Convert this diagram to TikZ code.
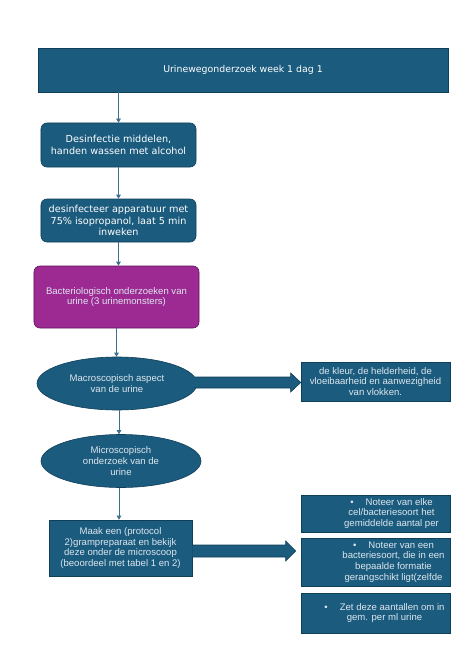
\documentclass[tikz,border=0pt]{standalone}
\usepackage{fontspec}
\setmainfont{DejaVu Sans}
\newfontfamily\thinfont{Liberation Sans}
\usetikzlibrary{shapes.geometric,arrows.meta,calc}
\definecolor{mainblue}{HTML}{1B5B7E}
\definecolor{edgeblue}{HTML}{0F3F59}
\definecolor{magbox}{HTML}{9C2A92}
\definecolor{magedge}{HTML}{5E1558}
\definecolor{connblue}{HTML}{3D6F8F}
\definecolor{thinwhite}{HTML}{DDE7EE}
\tikzset{
  boxbase/.style={draw=edgeblue, fill=mainblue, line width=0.6bp, text=white, align=center, inner sep=0pt},
  titletext/.style={font=\fontsize{9.4}{12}\selectfont},
  boldtext/.style={font=\fontsize{9.7}{11.6}\selectfont},
  thintext/.style={font=\thinfont\fontsize{9.6}{10.8}\selectfont, text=thinwhite},
  roundbox/.style={boxbase, rounded corners=6bp},
  ellbox/.style={boxbase, ellipse, minimum width=160bp, minimum height=53bp},
  conn/.style={draw=connblue, line width=0.6bp, -{Triangle[length=4bp,width=4.5bp]}},
  fat/.style={draw=edgeblue, fill=mainblue, line width=0.6bp}
}
\begin{document}
\begin{tikzpicture}[x=1bp,y=-1bp]
\useasboundingbox[fill=white] (0,0) rectangle (474,669);

\node[boxbase, titletext, minimum width=410bp, minimum height=44bp] (title) at (243,70) {Urinewegonderzoek week 1 dag 1};
\node[roundbox, boldtext, minimum width=155bp, minimum height=44bp] (d1) at (118.5,145) {Desinfectie middelen,\\handen wassen met alcohol};
\node[roundbox, boldtext, minimum width=155bp, minimum height=43bp] (d2) at (118.5,220.5) {desinfecteer apparatuur met\\75\% isopropanol, laat 5 min\\inweken};
\node[roundbox, thintext, draw=magedge, fill=magbox, minimum width=165bp, minimum height=62bp] (bact) at (116.5,297) {Bacteriologisch onderzoeken van\\urine (3 urinemonsters)};
\node[ellbox, thintext] (mac) at (117,383.5) {Macroscopisch aspect\\van de urine};
\node[ellbox, thintext] (mic) at (121,461) {Microscopisch\\onderzoek van de\\urine};
\node[boxbase, thintext, minimum width=143bp, minimum height=56bp] (maak) at (120.5,548) {Maak een (protocol\\2)grampreparaat en bekijk\\deze onder de microscoop\\(beoordeel met tabel 1 en 2)};
\node[boxbase, thintext, minimum width=149bp, minimum height=39bp] (side) at (375.5,381.5) {de kleur, de helderheid, de\\vloeibaarheid en aanwezigheid\\van vlokken.};
\node[boxbase, minimum width=149bp, minimum height=37bp,
  label={[thintext, align=center, xshift=16bp]center:{•\hspace{12bp}Noteer van elke\\cel/bacteriesoort het\\gemiddelde aantal per}}] (r1) at (375.5,513.5) {};
\node[boxbase, minimum width=149bp, minimum height=48bp,
  label={[thintext, align=center, xshift=18bp]center:{•\hspace{12bp}Noteer van een\\bacteriesoort, die in een\\bepaalde formatie\\gerangschikt ligt(zelfde}}] (r2) at (375.5,562) {};
\node[boxbase, minimum width=149bp, minimum height=40bp,
  label={[thintext, align=center, xshift=9bp]center:{•\hspace{12bp}Zet deze aantallen om in\\gem. per ml urine}}] (r3) at (375.5,613) {};

\draw[conn] (title.south -| d1) -- (d1.north);
\draw[conn] (d1.south) -- (d2.north);
\draw[conn] (d2.south) -- (d2.south |- bact.north);
\draw[conn] (bact.south) -- (bact.south |- mac.north);
\draw[conn] ($(mac.south)+(2,0)$) -- ($(mac.south |- mic.north)+(2,0)$);
\draw[conn] ($(mic.south)+(-2,0)$) -- ($(mic.south |- maak.north)+(-2,0)$);

\coordinate (a1) at ($(mac.east)+(-3,-1)$);
\coordinate (t1) at (side.west |- a1);
\draw[fat] ($(a1)+(0,-5.5)$) -- ($(t1)+(-10,-5.5)$) -- ($(t1)+(-10,-9.5)$) -- (t1)
  -- ($(t1)+(-10,9.5)$) -- ($(t1)+(-10,5.5)$) -- ($(a1)+(0,5.5)$);

\coordinate (a2) at ($(maak.east)+(0,3)$);
\coordinate (t2) at ($(r2.west |- a2)+(-5,0)$);
\draw[fat] ($(a2)+(0,-6)$) -- ($(t2)+(-10,-6)$) -- ($(t2)+(-10,-10)$) -- (t2)
  -- ($(t2)+(-10,10)$) -- ($(t2)+(-10,6)$) -- ($(a2)+(0,6)$);
\end{tikzpicture}
\end{document}
